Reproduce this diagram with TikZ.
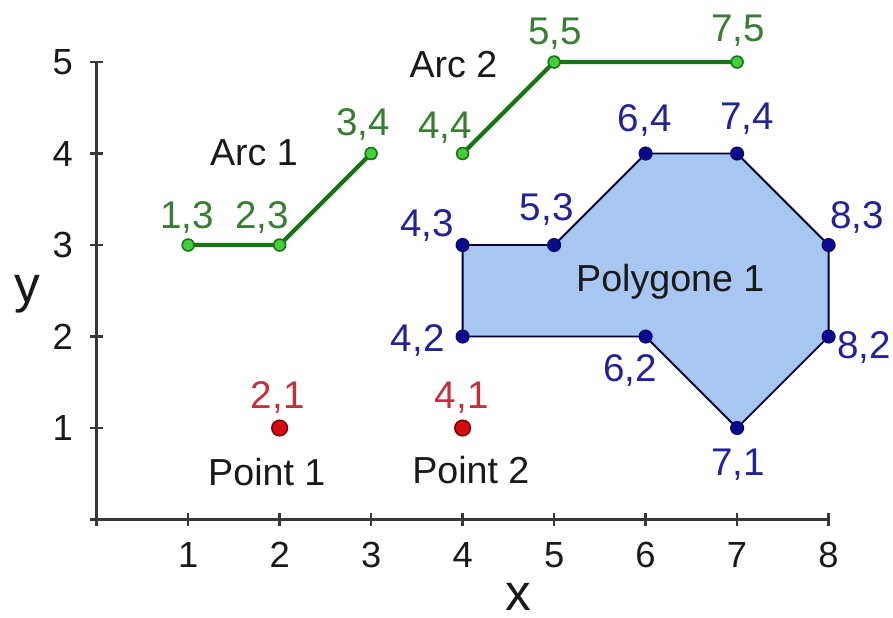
\documentclass[tikz,border=0pt]{standalone}
\usepackage{fontspec}
\setmainfont{Liberation Sans}
\usepackage{xcolor}
\usetikzlibrary{backgrounds}
\definecolor{arcgreen}{RGB}{25,115,25}
\definecolor{dotgreen}{RGB}{70,205,60}
\definecolor{txtgreen}{RGB}{55,125,50}
\definecolor{polyblue}{RGB}{168,198,242}
\definecolor{dotblue}{RGB}{10,10,140}
\definecolor{txtblue}{RGB}{35,35,150}
\definecolor{dotred}{RGB}{215,10,15}
\definecolor{txtred}{RGB}{190,50,60}
\definecolor{axisgray}{RGB}{55,55,55}

\begin{document}
\begin{tikzpicture}[
    axisline/.style={draw=axisgray, line width=0.7pt},
    ticklabel/.style={font=\fontsize{11.3}{13}\selectfont, text=black!90, inner sep=0pt},
    axislabel/.style={font=\fontsize{16}{19}\selectfont, text=black!90, inner sep=0pt},
    namelabel/.style={font=\fontsize{11.7}{14}\selectfont, text=black!90, inner sep=0pt},
    greenlabel/.style={font=\fontsize{12}{14}\selectfont, text=txtgreen, inner sep=0pt, text depth=0pt},
    bluelabel/.style={font=\fontsize{12}{14}\selectfont, text=txtblue, inner sep=0pt, text depth=0pt},
    redlabel/.style={font=\fontsize{12}{14}\selectfont, text=txtred, inner sep=0pt, text depth=0pt},
    greendot/.style={circle, draw=arcgreen, fill=dotgreen, line width=0.5pt, inner sep=0pt, minimum size=0.13cm},
    bluedot/.style={circle, draw=dotblue!80!black, fill=dotblue, line width=0.4pt, inner sep=0pt, minimum size=0.14cm},
    reddot/.style={circle, draw=dotred!55!black, fill=dotred, line width=0.5pt, inner sep=0pt, minimum size=0.17cm},
    arcline/.style={draw=arcgreen, line width=1.3pt},
    polyedge/.style={draw=black!80!blue, fill=polyblue, line width=0.6pt, line join=miter}
]
\useasboundingbox (-1.056,-1.066) rectangle (8.704,5.678);

% Axes
\draw[axisline] (0,0) -- (8,0);
\draw[axisline] (0,0) -- (0,5);
\draw[axisline] (0,-0.07) -- (0,0.07);
\draw[axisline] (1,-0.07) -- (1,0.07);
\draw[axisline] (2,-0.07) -- (2,0.07);
\draw[axisline] (3,-0.07) -- (3,0.07);
\draw[axisline] (4,-0.07) -- (4,0.07);
\draw[axisline] (5,-0.07) -- (5,0.07);
\draw[axisline] (6,-0.07) -- (6,0.07);
\draw[axisline] (7,-0.07) -- (7,0.07);
\draw[axisline] (8,-0.07) -- (8,0.07);
\draw[axisline] (-0.07,0) -- (0.07,0);
\draw[axisline] (-0.07,1) -- (0.07,1);
\draw[axisline] (-0.07,2) -- (0.07,2);
\draw[axisline] (-0.07,3) -- (0.07,3);
\draw[axisline] (-0.07,4) -- (0.07,4);
\draw[axisline] (-0.07,5) -- (0.07,5);

% Tick labels
\node[ticklabel] (tx1) at (1,-0.39) {1};
\node[ticklabel] (tx2) at (2,-0.39) {2};
\node[ticklabel] (tx3) at (3,-0.39) {3};
\node[ticklabel] (tx4) at (4,-0.39) {4};
\node[ticklabel] (tx5) at (5,-0.39) {5};
\node[ticklabel] (tx6) at (6,-0.39) {6};
\node[ticklabel] (tx7) at (7,-0.39) {7};
\node[ticklabel] (tx8) at (8,-0.39) {8};
\node[ticklabel] (ty1) at (-0.37,1) {1};
\node[ticklabel] (ty2) at (-0.37,2) {2};
\node[ticklabel] (ty3) at (-0.37,3) {3};
\node[ticklabel] (ty4) at (-0.37,4) {4};
\node[ticklabel] (ty5) at (-0.37,5) {5};

% Axis names
\node[axislabel] (xname) at (4.61,-0.85) {x};
\node[axislabel] (yname) at (-0.76,2.46) {y};

% Arc 1
\node[greendot] (a13) at (1,3) {};
\node[greendot] (a23) at (2,3) {};
\node[greendot] (a34) at (3,4) {};
\begin{scope}[on background layer]
\draw[arcline] (a13.center) -- (a23.center) -- (a34.center);
\end{scope}
\node[greenlabel] (l13) at (0.99,3.33) {1,3};
\node[greenlabel] (l23) at (1.81,3.33) {2,3};
\node[greenlabel] (l34) at (2.91,4.34) {3,4};
\node[namelabel] (arc1) at (1.72,4.01) {Arc 1};

% Arc 2
\node[greendot] (b44) at (4,4) {};
\node[greendot] (b55) at (5,5) {};
\node[greendot] (b75) at (7,5) {};
\begin{scope}[on background layer]
\draw[arcline] (b44.center) -- (b55.center) -- (b75.center);
\end{scope}
\node[greenlabel] (l44) at (3.81,4.31) {4,4};
\node[greenlabel] (l55) at (5.01,5.34) {5,5};
\node[greenlabel] (l75) at (7.01,5.37) {7,5};
\node[namelabel] (arc2) at (3.9,4.97) {Arc 2};

% Polygone 1
\node[bluedot] (p43) at (4,3) {};
\node[bluedot] (p53) at (5,3) {};
\node[bluedot] (p64) at (6,4) {};
\node[bluedot] (p74) at (7,4) {};
\node[bluedot] (p83) at (8,3) {};
\node[bluedot] (p82) at (8,2) {};
\node[bluedot] (p71) at (7,1) {};
\node[bluedot] (p62) at (6,2) {};
\node[bluedot] (p42) at (4,2) {};
\begin{scope}[on background layer]
\draw[polyedge] (p43.center) -- (p53.center) -- (p64.center) -- (p74.center) -- (p83.center)
    -- (p82.center) -- (p71.center) -- (p62.center) -- (p42.center) -- cycle;
\end{scope}
\node[bluelabel] (l43) at (3.61,3.24) {4,3};
\node[bluelabel] (l53) at (4.92,3.41) {5,3};
\node[bluelabel] (l64) at (5.99,4.39) {6,4};
\node[bluelabel] (l74) at (7.11,4.41) {7,4};
\node[bluelabel] (l83) at (8.31,3.33) {8,3};
\node[bluelabel] (l82) at (8.39,1.91) {8,2};
\node[bluelabel] (l71) at (7.01,0.63) {7,1};
\node[bluelabel] (l62) at (5.83,1.66) {6,2};
\node[bluelabel] (l42) at (3.51,1.98) {4,2};
\node[namelabel] (poly1) at (6.27,2.6) {Polygone 1};

% Points
\node[reddot] (q21) at (2,1) {};
\node[reddot] (q41) at (4,1) {};
\node[redlabel] (l21) at (1.98,1.36) {2,1};
\node[redlabel] (l41) at (3.99,1.36) {4,1};
\node[namelabel] (pt1) at (1.86,0.52) {Point 1};
\node[namelabel] (pt2) at (4.09,0.54) {Point 2};

\end{tikzpicture}
\end{document}
